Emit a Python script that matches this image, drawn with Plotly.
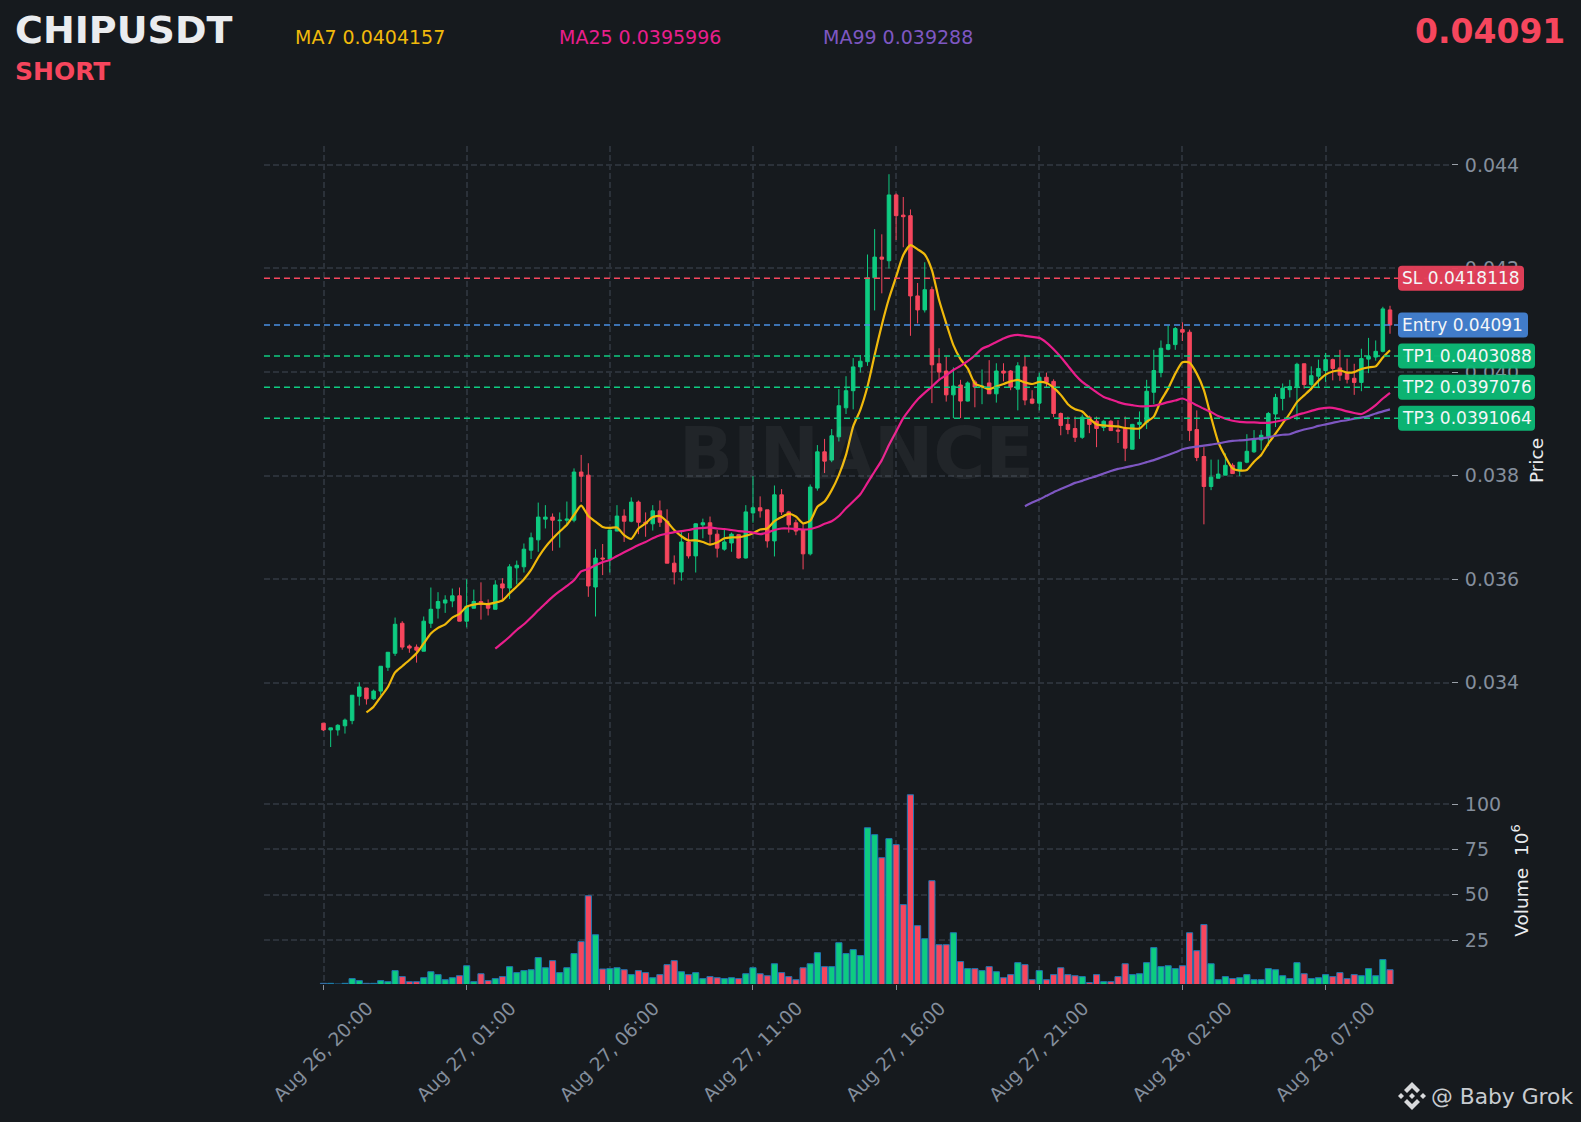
import numpy as np
import pandas as pd
import plotly.graph_objects as go
from plotly.subplots import make_subplots

# Prices are in units of 0.00001 USDT; volumes in millions.
PRICE_UNIT = 1e-5
CANDLE_START = "2025-08-26 20:00"

opens = [3322,3309,3309,3317,3327,3374,3390,3369,3384,3430,3457,3515,3471,3469,3461,3515,3544,3554,3558,3568,
         3519,3544,3557,3553,3542,3591,3583,3622,3624,3656,3676,3716,3720,3713,3714,3714,3807,3801,3585,3641,
         3639,3693,3722,3712,3749,3710,3707,3732,3712,3631,3614,3672,3645,3705,3709,3687,3658,3670,3686,3641,
         3728,3738,3734,3674,3763,3730,3709,3695,3649,3776,3846,3830,3875,3931,3964,4010,4020,4182,4222,4215,
         4342,4303,4302,4147,4120,4159,4016,4002,3956,3975,3944,3981,3971,3979,3958,4002,4002,3967,4010,3948,
         3940,3990,3982,3920,3899,3891,3874,3913,3905,3893,3905,3888,3891,3851,3899,3903,3961,3999,4044,4053,
         4082,4077,3889,3837,3779,3795,3801,3820,3809,3826,3846,3869,3876,3919,3949,3966,3972,4016,3976,3992,
         4003,4024,4008,3999,3988,3980,4025,4029,4040,4120]
highs = [3322,3313,3320,3331,3376,3401,3390,3387,3432,3459,3526,3519,3474,3474,3528,3584,3575,3569,3582,3584,
         3600,3580,3594,3561,3598,3602,3629,3636,3669,3690,3748,3743,3727,3729,3750,3814,3840,3824,3658,3668,
         3695,3743,3735,3758,3752,3729,3743,3752,3735,3646,3695,3689,3708,3717,3721,3695,3698,3690,3687,3743,
         3799,3760,3734,3781,3774,3732,3715,3708,3783,3859,3871,3890,3967,3992,4027,4033,4227,4276,4266,4382,
         4345,4338,4314,4172,4212,4165,4046,4030,4009,3985,3982,3985,4005,4023,4017,4017,4004,4019,4031,3965,
         3999,3999,3986,3922,3914,3914,3918,3916,3914,3907,3907,3907,3914,3900,3924,3985,4043,4061,4090,4087,
         4096,4082,3926,3855,3831,3831,3843,3824,3826,3880,3888,3888,3923,3958,3978,3985,4018,4016,4011,4024,
         4037,4026,4043,4026,4016,4045,4066,4061,4126,4128]
lows = [3307,3276,3298,3302,3320,3356,3358,3367,3376,3423,3452,3464,3458,3439,3461,3506,3524,3535,3546,3519,
        3507,3544,3522,3530,3542,3560,3562,3590,3613,3639,3653,3698,3655,3661,3703,3710,3749,3566,3528,3608,
        3613,3693,3672,3710,3687,3682,3694,3701,3631,3590,3597,3640,3613,3679,3668,3642,3655,3653,3640,3640,
        3709,3719,3661,3644,3724,3690,3685,3619,3646,3771,3805,3826,3866,3919,3928,3999,4012,4119,4152,4200,
        4255,4241,4070,4094,4115,3940,3985,3943,3911,3911,3943,3932,3938,3958,3941,3982,3965,3926,3936,3938,
        3926,3971,3913,3878,3880,3865,3871,3882,3855,3886,3887,3863,3828,3851,3871,3890,3938,3990,4042,4043,
        4060,3867,3828,3706,3772,3795,3801,3804,3799,3824,3844,3849,3857,3894,3926,3951,3907,3968,3965,3969,
        3981,3984,3983,3978,3956,3963,3998,4022,4038,4074]
closes = [3309,3313,3318,3328,3376,3392,3369,3384,3432,3459,3513,3469,3467,3463,3519,3542,3557,3560,3568,3519,
          3548,3557,3551,3544,3589,3583,3624,3627,3658,3680,3720,3720,3714,3714,3716,3807,3799,3587,3641,3639,
          3695,3722,3712,3749,3710,3707,3732,3710,3631,3614,3672,3645,3707,3709,3687,3660,3672,3687,3641,3730,
          3738,3732,3674,3763,3730,3705,3693,3649,3778,3846,3828,3877,3935,3964,4010,4021,4182,4222,4218,4342,
          4302,4300,4147,4120,4159,4014,4000,3956,3973,3944,3979,3971,3973,3958,4002,3998,3971,4012,3946,3940,
          3990,3980,3920,3897,3889,3874,3913,3899,3891,3905,3887,3886,3853,3899,3903,3963,4003,4046,4053,4084,
          4077,3887,3835,3779,3797,3803,3820,3804,3826,3847,3871,3878,3920,3951,3969,3972,4015,3976,3993,4007,
          4024,4007,3994,3986,3980,4026,4030,4040,4122,4091]
volumes = [1.1,1.1,0.7,1.1,3.7,2.6,1.1,1.1,2.6,2.0,8.1,4.8,2.0,2.0,4.2,7.5,5.9,3.1,4.2,5.3,
           10.8,2.0,6.4,2.6,3.7,4.8,10.3,7.0,8.1,8.6,15.3,9.7,13.6,7.0,9.7,17.5,24.1,49.4,27.9,9.0,
           9.2,9.7,8.6,5.9,8.1,7.0,4.2,5.9,11.4,13.6,7.5,5.9,7.0,3.7,4.8,4.2,3.7,4.2,3.7,6.4,
           9.7,6.4,5.3,11.9,7.0,4.8,3.1,9.7,11.9,18.0,10.3,10.3,23.5,17.5,19.7,16.4,86.9,83.1,70.4,80.9,
           77.6,44.5,105.1,32.9,25.7,57.7,22.4,22.4,29.0,13.1,9.2,9.2,8.1,10.3,7.5,4.2,5.9,12.5,11.4,3.1,
           8.1,3.1,5.9,9.7,5.9,5.3,4.8,1.5,5.9,2.0,2.0,4.8,11.9,5.9,6.4,12.5,20.8,10.3,10.8,9.2,
           10.8,29.0,19.1,33.5,11.9,3.1,4.8,3.7,4.2,5.9,3.1,3.1,9.2,8.6,5.3,3.7,12.5,6.4,3.7,4.2,
           5.9,4.8,7.0,3.7,5.9,5.3,9.2,5.3,14.2,8.6]

ma7_values = [3343,3354,3373,3392,3420,3432,3444,3457,3476,3495,3506,3513,3526,3533,3547,3551,3553,3552,3555,3559,
              3573,3586,3600,3618,3642,3662,3678,3692,3705,3724,3742,3722,3711,3701,3699,3700,3685,3678,3698,3708,
              3720,3722,3711,3695,3683,3675,3675,3672,3667,3671,3679,3681,3681,3684,3689,3696,3698,3712,3720,3726,
              3721,3708,3713,3740,3750,3772,3801,3840,3895,3927,3972,4033,4091,4142,4184,4226,4245,4237,4227,4197,
              4139,4094,4052,4025,4007,3978,3972,3967,3972,3977,3982,3985,3980,3977,3981,3979,3970,3956,3938,3928,
              3924,3910,3899,3897,3896,3895,3892,3891,3891,3904,3914,3945,3968,3997,4019,4018,3997,3965,3913,3865,
              3837,3814,3810,3811,3827,3840,3862,3881,3901,3920,3942,3955,3968,3983,3995,4001,4003,3999,4000,4006,
              4009,4011,4028,4042]
ma25_values = [3466,3477,3489,3502,3513,3526,3540,3553,3566,3577,3587,3598,3615,3620,3627,3633,3637,3645,
               3652,3659,3666,3672,3679,3685,3688,3691,3693,3695,3698,3699,3700,3698,3697,3695,3693,3692,3690,3687,
               3690,3695,3698,3698,3697,3696,3697,3701,3707,3712,3722,3737,3750,3764,3786,3808,3830,3859,3885,3911,
               3930,3947,3960,3972,3985,3994,4004,4012,4021,4032,4045,4051,4058,4065,4070,4072,4070,4068,4066,4057,
               4044,4029,4012,3995,3981,3971,3961,3952,3947,3942,3938,3936,3934,3934,3935,3938,3942,3945,3949,3943,
               3936,3929,3923,3915,3910,3906,3904,3903,3903,3902,3902,3904,3907,3911,3917,3921,3925,3929,3931,3931,
               3928,3924,3921,3919,3926,3936,3949,3960]
ma99_values = [3741,3748,3754,3761,3768,3774,3780,3786,3790,3795,3799,3804,3809,3813,3816,3819,3822,3826,3830,3835,
               3840,3845,3851,3854,3856,3858,3860,3862,3865,3867,3868,3869,3871,3872,3874,3877,3879,3880,3885,3889,
               3892,3896,3899,3902,3905,3907,3910,3912,3915,3920,3924,3928]

level_names = ["SL", "Entry", "TP1", "TP2", "TP3"]
level_values = [0.0418118, 0.04091, 0.0403088, 0.0397076, 0.0391064]
level_colors = ["#F6465D", "#4A90E2", "#0ECB81", "#0ECB81", "#0ECB81"]
label_colors = ["#E6405A", "#4480D0", "#0DB976", "#0DB976", "#0DB976"]
label_widths = [126, 130, 137, 137, 137]

price_ticks = [0.034, 0.036, 0.038, 0.040, 0.042, 0.044]
volume_ticks = [25, 50, 75, 100]

UP, DOWN = "#0ECB81", "#F6465D"
BG = "#161A1E"
GRID = "#2B3139"
TICK_TEXT = "#848E9C"

W, H = 1581, 1122
L, R, T, B = 264, 1451, 146, 984
PW, PH = R - L, B - T


def px(x):
    return (x - L) / PW


def py(y):
    return (B - y) / PH


times = pd.date_range(CANDLE_START, periods=len(closes), freq="15min")
o, h, l, c = [np.array(a) * PRICE_UNIT for a in (opens, highs, lows, closes)]
bar_colors = [UP if cc >= oo else DOWN for oo, cc in zip(opens, closes)]

fig = make_subplots(rows=2, cols=1, shared_xaxes=True, specs=[[{}], [{}]])

fig.add_trace(go.Candlestick(
    x=times, open=o, high=h, low=l, close=c, whiskerwidth=0,
    increasing=dict(line=dict(color=UP, width=1), fillcolor=UP),
    decreasing=dict(line=dict(color=DOWN, width=1), fillcolor=DOWN),
    showlegend=False), row=1, col=1)

for vals, color in ((ma7_values, "#F0B90B"), (ma25_values, "#E91E8C"), (ma99_values, "#7E57C2")):
    fig.add_trace(go.Scatter(
        x=times[-len(vals):], y=np.array(vals) * PRICE_UNIT, mode="lines",
        line=dict(color=color, width=2.2, shape="spline", smoothing=0.6),
        showlegend=False), row=1, col=1)

fig.add_trace(go.Bar(
    x=times, y=volumes, marker=dict(color=bar_colors, line=dict(color="#1F77B4", width=1)),
    width=15 * 60 * 1000 * 0.86, showlegend=False), row=2, col=1)

axis_x = dict(showgrid=True, gridcolor=GRID, griddash="6px,3px", gridwidth=1.6,
              zeroline=False, showline=False,
              range=["2025-08-26 17:55:19", "2025-08-28 11:22:48"],
              rangeslider=dict(visible=False),
              tick0="2025-08-26 20:00", dtick=5 * 3600 * 1000)
fig.update_xaxes(**axis_x)
fig.update_xaxes(showticklabels=False, ticks="", row=1, col=1)
fig.update_xaxes(showticklabels=True, ticks="outside", ticklen=5, tickwidth=1.4, tickcolor="#8A8F98",
                 tickformat="%b %d, %H:%M", tickangle=-45, ticklabelshift=44,
                 tickfont=dict(size=18.6, color=TICK_TEXT), row=2, col=1)

axis_y = dict(side="right", showgrid=True, gridcolor=GRID, griddash="6px,3px", gridwidth=1.6,
              zeroline=False, showline=False, ticks="outside", ticklen=6, tickwidth=1.4,
              ticklabelstandoff=3, tickcolor="#9AA0A8", tickfont=dict(size=19, color=TICK_TEXT))
fig.update_yaxes(**axis_y)
fig.update_yaxes(domain=[py(775), 1], range=[0.03222, 0.044365], tickvals=price_ticks,
                 tickformat=".3f", title=dict(text="Price", font=dict(size=18.5, color="#EAECEF"), standoff=11),
                 row=1, col=1)
fig.update_yaxes(domain=[0, py(777)], range=[0.73, 114.9], tickvals=volume_ticks,
                 title=dict(text="Volume  10<sup>6</sup>", font=dict(size=18.5, color="#EAECEF"), standoff=14),
                 row=2, col=1)

shapes = []
annotations = []


def text(s, x, y, size, color, bold=False, anchor="left"):
    annotations.append(dict(
        text=f"<b>{s}</b>" if bold else s, xref="paper", yref="paper", x=px(x), y=py(y),
        xanchor=anchor, yanchor="middle", showarrow=False,
        font=dict(family="DejaVu Sans", size=size, color=color)))


def rounded(width, height, r):
    w, hh = width, height / 2
    return (f"M {r},{-hh} L {w-r},{-hh} Q {w},{-hh} {w},{-hh+r} L {w},{hh-r} Q {w},{hh} {w-r},{hh} "
            f"L {r},{hh} Q 0,{hh} 0,{hh-r} L 0,{-hh+r} Q 0,{-hh} {r},{-hh} Z")


for name, val, lc, bc, bw in zip(level_names, level_values, level_colors, label_colors, label_widths):
    shapes.append(dict(type="line", xref="paper", x0=0, x1=1, yref="y", y0=val, y1=val,
                       line=dict(color=lc, width=1.5, dash="6px,4px"), layer="above"))
    shapes.append(dict(type="path", xref="paper", yref="y", xsizemode="pixel", ysizemode="pixel",
                       xanchor=px(1398), yanchor=val, path=rounded(bw, 25, 4),
                       fillcolor=bc, opacity=0.96, line=dict(width=0), layer="above"))
    annotations.append(dict(
        text=f"{name} {val:g}", xref="paper", yref="y", x=px(1400), y=val, xanchor="left", yanchor="middle",
        showarrow=False, font=dict(family="DejaVu Sans", size=17, color="#F4F6F8")))

# Watermark, header and footer
text("BINANCE", 856, 453, 71, "rgba(234,236,239,0.055)", bold=True, anchor="center")
text("CHIPUSDT", 13, 30, 38, "#EAECEF", bold=True)
text("SHORT", 13, 71, 25, "#F6465D", bold=True)
text("MA7 0.0404157", 293, 37, 19, "#F0B90B")
text("MA25 0.0395996", 557, 37, 19, "#E91E8C")
text("MA99 0.039288", 821, 37, 19, "#7E57C2")
text("0.04091", 1567, 32, 33, "#F6465D", bold=True, anchor="right")
text("@ Baby Grok", 1575, 1096, 21.8, "#C8CCD0", anchor="right")

logo_parts = [
    "M 0,-14 L 8,-6 L 5,-3 L 0,-8 L -5,-3 L -8,-6 Z",
    "M 0,14 L 8,6 L 5,3 L 0,8 L -5,3 L -8,6 Z",
    "M -14,0 L -11,-3 L -8,0 L -11,3 Z",
    "M 14,0 L 11,-3 L 8,0 L 11,3 Z",
    "M 0,-3 L 3,0 L 0,3 L -3,0 Z",
]
for part in logo_parts:
    shapes.append(dict(type="path", xref="paper", yref="paper", xsizemode="pixel", ysizemode="pixel",
                       xanchor=px(1412), yanchor=py(1096), path=part, fillcolor="#D8DADC", line=dict(width=0)))

fig.update_layout(
    width=W, height=H, margin=dict(l=L, r=W - R, t=T, b=H - B, pad=0),
    paper_bgcolor=BG, plot_bgcolor=BG, font=dict(family="DejaVu Sans", color=TICK_TEXT),
    showlegend=False, bargap=0.1, shapes=shapes, annotations=annotations,
    hovermode=False,
)

fig.write_html("out.html", config=dict(displayModeBar=False),
               post_script="document.body.style.margin='0';document.body.style.background='#161A1E';")
